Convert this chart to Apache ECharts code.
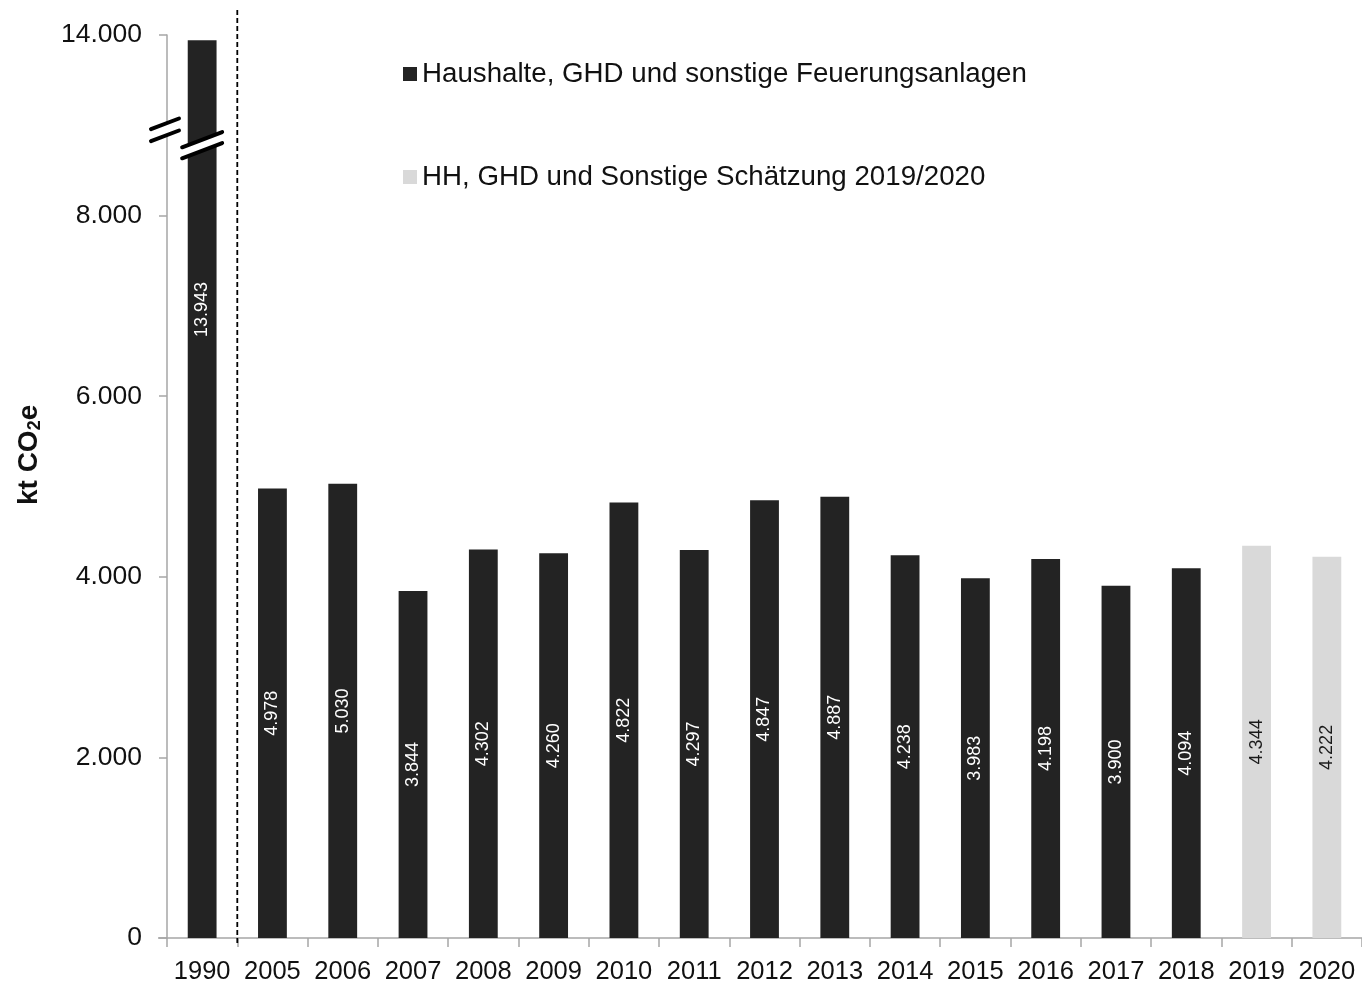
<!DOCTYPE html>
<html>
<head>
<meta charset="utf-8">
<script src="https://cdn.jsdelivr.net/npm/echarts@6/dist/echarts.min.js"></script>
<style>
html,body{margin:0;padding:0;background:#fff;}
#chart{width:1362px;height:985px;}
</style>
</head>
<body>
<div id="chart"></div>
<script>
const years = ['1990','2005','2006','2007','2008','2009','2010','2011','2012','2013','2014','2015','2016','2017','2018','2019','2020'];
const inventory = [13943,4978,5030,3844,4302,4260,4822,4297,4847,4887,4238,3983,4198,3900,4094,null,null];
const estimate = [null,null,null,null,null,null,null,null,null,null,null,null,null,null,null,4344,4222];
const seriesNames = ['Haushalte, GHD und sonstige Feuerungsanlagen','HH, GHD und Sonstige Schätzung 2019/2020'];
const yTicks = [0,2000,4000,6000,8000,10000];
const breakOffset = 4000;   // values above the axis break are shifted down by this amount
const breakTop = 10000;     // axis position showing 14.000

const FONT = '"Liberation Sans", Arial, sans-serif';
function fmt(v){ return String(v).replace(/\B(?=(\d{3})+(?!\d))/g,'.'); }
function disp(v){ return v==null ? null : (v > breakTop ? v - breakOffset : v); }

const chart = echarts.init(document.getElementById('chart'));

function mkData(arr){
  return arr.map(v => {
    if (v == null) return null;
    const d = {value: disp(v), real: v};
    if (v > breakTop) {
      d.label = {position: ['50%', '30%'], align:'center', verticalAlign:'middle'};
    }
    return d;
  });
}

function labelCfg(color){
  return {
    show: true, position: 'inside', rotate: 90, color: color,
    fontFamily: FONT, fontSize: 18,
    formatter: p => fmt(p.data.real)
  };
}

chart.setOption({
  animation: false,
  backgroundColor: '#fff',
  grid: {left: 167, top: 35, width: 1200, bottom: 47, containLabel: false},
  legend: {
    orient: 'vertical', left: 398, top: 55, itemGap: 75,
    icon: 'rect', itemWidth: 14, itemHeight: 14, itemStyle: {borderWidth: 0},
    textStyle: {fontFamily: FONT, fontSize: 27.7, color: '#111'},
    data: seriesNames
  },
  xAxis: {
    type: 'category', data: years,
    axisLine: {lineStyle: {color: '#a6a6a6', width: 1.5}},
    axisTick: {show: true, alignWithLabel: false, length: 9, lineStyle: {color: '#a6a6a6', width: 1.5}},
    axisLabel: {fontFamily: FONT, fontSize: 25.5, color: '#111', margin: 21, interval: 0}
  },
  yAxis: {
    type: 'value', min: 0, max: 10000, interval: 2000,
    splitLine: {show: false},
    axisLine: {show: true, lineStyle: {color: '#a6a6a6', width: 1.5}},
    axisTick: {show: true, length: 8, lineStyle: {color: '#a6a6a6', width: 1.5}},
    axisLabel: {fontFamily: FONT, fontSize: 26.5, color: '#111', margin: 25,
      formatter: v => v === breakTop ? fmt(breakTop + breakOffset) : fmt(v)}
  },
  series: [
    {name: seriesNames[0], type: 'bar', data: mkData(inventory), barWidth: '41%', barGap: '-100%',
     itemStyle: {color: '#232323'}, label: labelCfg('#fff')},
    {name: seriesNames[1], type: 'bar', data: mkData(estimate), barWidth: '41%',
     itemStyle: {color: '#d9d9d9'}, label: labelCfg('#1a1a1a')}
  ]
});

// decorations: dashed separator, axis-break marks, axis title
const p0 = chart.convertToPixel({gridIndex: 0}, [0, 0]);
const p1 = chart.convertToPixel({gridIndex: 0}, [1, 0]);
const step = p1[0] - p0[0];
const sepX = (p0[0] + p1[0]) / 2;
const axisX = p0[0] - step / 2;
const yAxisBreak = chart.convertToPixel({gridIndex: 0}, [0, 8950])[1];
const yBarBreak = chart.convertToPixel({gridIndex: 0}, [0, 8780])[1];
const yMid = chart.convertToPixel({gridIndex: 0}, [0, 5350])[1];
const bx = p0[0];

function breakMark(cx, cy, halfW, slope, gap){
  const dy = halfW * slope;
  return [
    {type:'polygon', shape:{points:[[cx-halfW, cy-gap/2+dy],[cx+halfW, cy-gap/2-dy],[cx+halfW, cy+gap/2-dy],[cx-halfW, cy+gap/2+dy]]}, style:{fill:'#fff'}, z:100},
    {type:'line', shape:{x1:cx-halfW, y1:cy-gap/2+dy, x2:cx+halfW, y2:cy-gap/2-dy}, style:{stroke:'#000', lineWidth:4, lineCap:'round'}, z:101},
    {type:'line', shape:{x1:cx-halfW, y1:cy+gap/2+dy, x2:cx+halfW, y2:cy+gap/2-dy}, style:{stroke:'#000', lineWidth:4, lineCap:'round'}, z:101}
  ];
}

chart.setOption({
  graphic: [
    {type:'line', shape:{x1:sepX, y1:10, x2:sepX, y2:945}, style:{stroke:'#000', lineWidth:1.8, lineDash:[5,3]}, z:50},
    {type:'line', shape:{x1:axisX-9, y1:p0[1], x2:axisX, y2:p0[1]}, style:{stroke:'#a6a6a6', lineWidth:1.5}, z:50},
    ...breakMark(axisX - 2, yAxisBreak, 14, 0.38, 12),
    ...breakMark(bx, yBarBreak, 20, 0.38, 11),
    {type:'text', x: 29, y: yMid, rotation: Math.PI/2,
     style:{text:'{a|kt CO}{s|2}{a|e}', align:'center', verticalAlign:'middle',
       rich:{
         a:{fontFamily: FONT, fontSize: 28, fontWeight:'bold', fill:'#111'},
         s:{fontFamily: FONT, fontSize: 18, fontWeight:'bold', fill:'#111', verticalAlign:'bottom', padding:[12,0,0,0]}
       }}}
  ]
});
</script>
</body>
</html>
